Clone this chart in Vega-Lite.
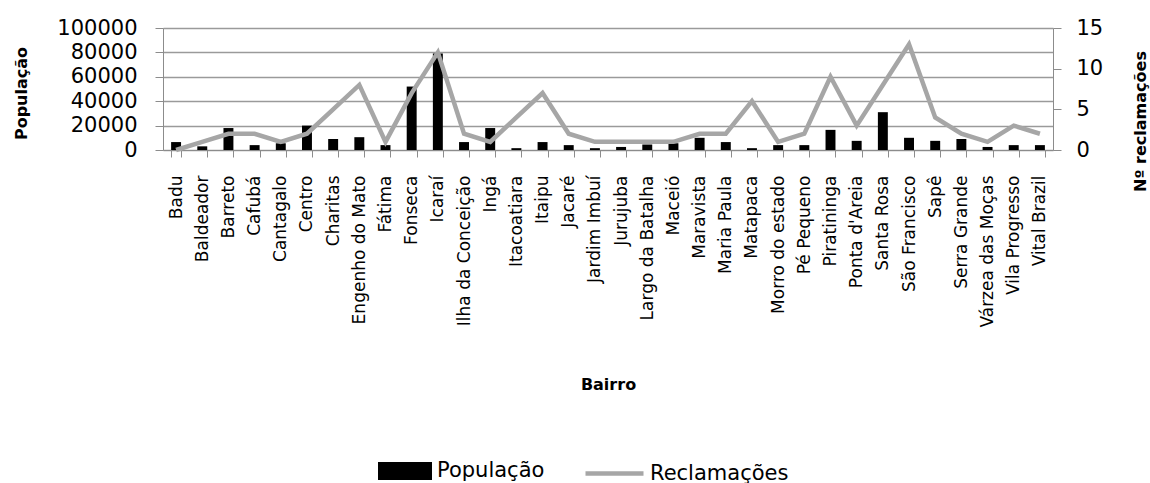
{
  "$schema": "https://vega.github.io/schema/vega-lite/v6.json",
  "width": 890,
  "height": 122,
  "autosize": {"type": "none"},
  "padding": {"left": 163, "top": 28, "right": 97, "bottom": 333},
  "background": "white",
  "config": {
    "view": {"stroke": null},
    "font": "DejaVu Sans",
    "axis": {"labelFont": "DejaVu Sans", "titleFont": "DejaVu Sans", "labelColor": "black", "titleColor": "black"},
    "legend": {"labelFont": "DejaVu Sans", "labelColor": "black"}
  },
  "data": {
    "values": [
      {"bairro": "Badu", "populacao": 6500, "reclamacoes": 0},
      {"bairro": "Baldeador", "populacao": 3000, "reclamacoes": 1},
      {"bairro": "Barreto", "populacao": 18000, "reclamacoes": 2},
      {"bairro": "Cafubá", "populacao": 4000, "reclamacoes": 2},
      {"bairro": "Cantagalo", "populacao": 5500, "reclamacoes": 1},
      {"bairro": "Centro", "populacao": 20000, "reclamacoes": 2},
      {"bairro": "Charitas", "populacao": 9000, "reclamacoes": 5},
      {"bairro": "Engenho do Mato", "populacao": 10500, "reclamacoes": 8},
      {"bairro": "Fátima", "populacao": 4000, "reclamacoes": 1},
      {"bairro": "Fonseca", "populacao": 52000, "reclamacoes": 7},
      {"bairro": "Icaraí", "populacao": 79000, "reclamacoes": 12},
      {"bairro": "Ilha da Conceição", "populacao": 6500, "reclamacoes": 2},
      {"bairro": "Ingá", "populacao": 18000, "reclamacoes": 1},
      {"bairro": "Itacoatiara", "populacao": 1500, "reclamacoes": 4},
      {"bairro": "Itaipu", "populacao": 6500, "reclamacoes": 7},
      {"bairro": "Jacaré", "populacao": 4000, "reclamacoes": 2},
      {"bairro": "Jardim Imbuí", "populacao": 1500, "reclamacoes": 1},
      {"bairro": "Jurujuba", "populacao": 2500, "reclamacoes": 1},
      {"bairro": "Largo da Batalha", "populacao": 4500, "reclamacoes": 1},
      {"bairro": "Maceió", "populacao": 5500, "reclamacoes": 1},
      {"bairro": "Maravista", "populacao": 10000, "reclamacoes": 2},
      {"bairro": "Maria Paula", "populacao": 6500, "reclamacoes": 2},
      {"bairro": "Matapaca", "populacao": 1500, "reclamacoes": 6},
      {"bairro": "Morro do estado", "populacao": 4000, "reclamacoes": 1},
      {"bairro": "Pé Pequeno", "populacao": 4000, "reclamacoes": 2},
      {"bairro": "Piratininga", "populacao": 16500, "reclamacoes": 9},
      {"bairro": "Ponta d'Areia", "populacao": 7500, "reclamacoes": 3},
      {"bairro": "Santa Rosa", "populacao": 31000, "reclamacoes": 8},
      {"bairro": "São Francisco", "populacao": 10000, "reclamacoes": 13},
      {"bairro": "Sapê", "populacao": 7500, "reclamacoes": 4},
      {"bairro": "Serra Grande", "populacao": 9000, "reclamacoes": 2},
      {"bairro": "Várzea das Moças", "populacao": 2500, "reclamacoes": 1},
      {"bairro": "Vila Progresso", "populacao": 4000, "reclamacoes": 3},
      {"bairro": "Vital Brazil", "populacao": 4000, "reclamacoes": 2}
    ]
  },
  "encoding": {
    "x": {
      "field": "bairro",
      "type": "nominal",
      "sort": null,
      "scale": {"paddingInner": 0.62, "paddingOuter": 0.31},
      "axis": {
        "title": "Bairro",
        "titleFontSize": 16,
        "titleFontWeight": "bold",
        "titleY": 234,
        "titleBaseline": "middle",
        "labelAngle": -90,
        "labelFontSize": 17,
        "labelPadding": 18,
        "labelOverlap": false,
        "labelLimit": 0,
        "tickBand": "extent",
        "tickSize": 7,
        "tickColor": "#8c8c8c",
        "domainColor": "#8c8c8c",
        "grid": false
      }
    }
  },
  "layer": [
    {
      "mark": {"type": "bar"},
      "encoding": {
        "y": {
          "field": "populacao",
          "type": "quantitative",
          "scale": {"domain": [0, 100000]},
          "axis": {
            "title": "População",
            "titleFontSize": 16,
            "titleFontWeight": "bold",
            "titleAngle": -90,
            "titleX": -142,
            "titleY": 65,
            "titleAlign": "center",
            "titleBaseline": "middle",
            "values": [0, 20000, 40000, 60000, 80000, 100000],
            "format": "d",
            "labelFontSize": 21,
            "labelPadding": 18,
            "labelFlush": false,
            "tickSize": 8,
            "tickColor": "#8c8c8c",
            "domainColor": "#8c8c8c",
            "grid": true,
            "gridColor": "#9a9a9a",
            "gridWidth": 1.3
          }
        },
        "fill": {
          "datum": "População",
          "scale": {"range": ["black"]},
          "legend": {
            "title": null,
            "orient": "none",
            "legendX": 215,
            "legendY": 416,
            "padding": 0,
            "symbolType": "M-1,-0.33H1V0.33H-1Z",
            "symbolSize": 2916,
            "symbolStrokeWidth": 0,
            "labelFontSize": 21,
            "labelOffset": 5
          }
        }
      }
    },
    {
      "mark": {"type": "line", "strokeWidth": 4.5},
      "encoding": {
        "y": {
          "field": "reclamacoes",
          "type": "quantitative",
          "scale": {"domain": [0, 15]},
          "axis": {
            "orient": "right",
            "title": "Nº reclamações",
            "titleFontSize": 16,
            "titleFontWeight": "bold",
            "titleAngle": 270,
            "titleX": 87,
            "titleY": 93,
            "titleAlign": "center",
            "titleBaseline": "middle",
            "values": [0, 5, 10, 15],
            "labelFontSize": 21,
            "labelPadding": 15,
            "labelFlush": false,
            "tickSize": 8,
            "tickColor": "#8c8c8c",
            "domainColor": "#8c8c8c",
            "grid": false
          }
        },
        "stroke": {
          "datum": "Reclamações",
          "scale": {"range": ["#a6a6a6"]},
          "legend": {
            "title": null,
            "orient": "none",
            "legendX": 420,
            "legendY": 414,
            "padding": 0,
            "symbolType": "stroke",
            "symbolSize": 3364,
            "symbolStrokeWidth": 4.5,
            "labelFontSize": 21,
            "labelOffset": 4
          }
        }
      }
    }
  ],
  "resolve": {"scale": {"y": "independent"}}
}
